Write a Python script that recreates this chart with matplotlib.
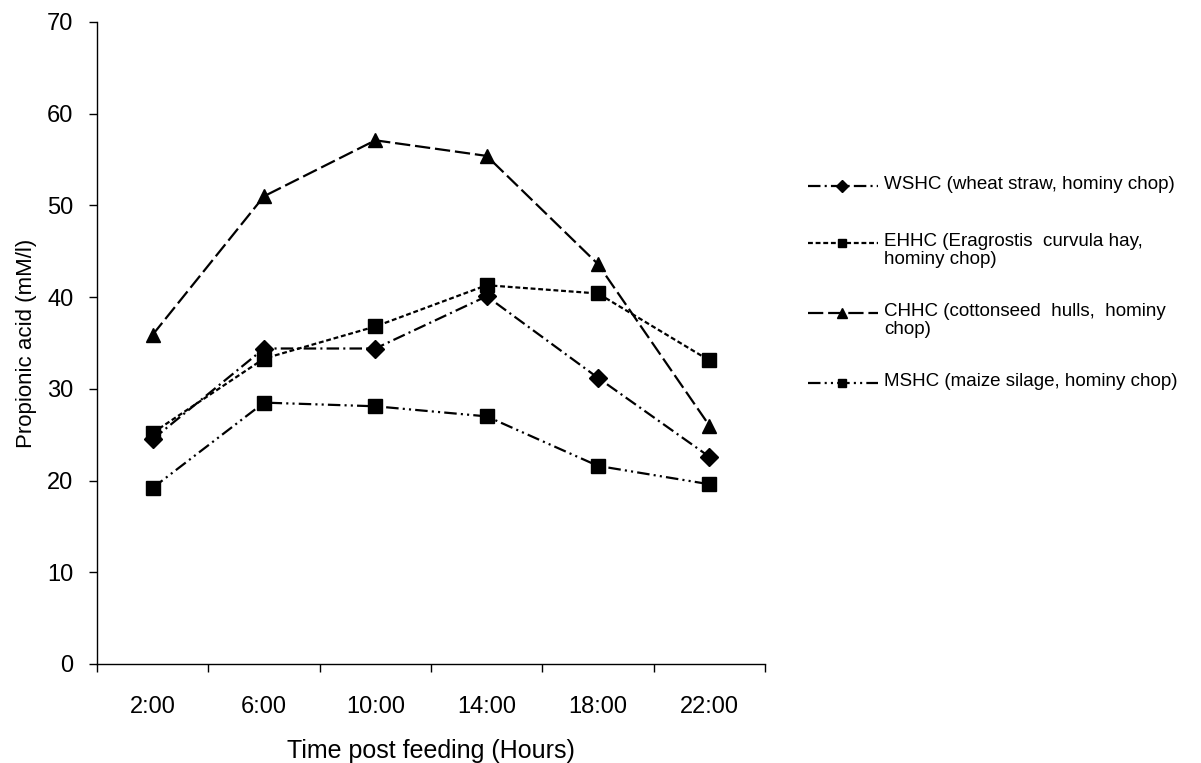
import matplotlib
matplotlib.use('Agg')
import matplotlib.pyplot as plt
from matplotlib.lines import Line2D
from matplotlib.ticker import FixedLocator, NullFormatter

plt.rcParams['font.family'] = ['Liberation Sans', 'DejaVu Sans']
plt.rcParams['lines.scale_dashes'] = False

# data
times = ['2:00', '6:00', '10:00', '14:00', '18:00', '22:00']
wshc = [24.5, 34.4, 34.4, 40.1, 31.2, 22.6]
ehhc = [25.2, 33.3, 36.8, 41.3, 40.4, 33.1]
chhc = [35.9, 51.0, 57.1, 55.4, 43.6, 26.0]
mshc = [19.2, 28.5, 28.1, 27.0, 21.6, 19.6]

labels = ['WSHC (wheat straw, hominy chop)',
          'EHHC (Eragrostis  curvula hay,\nhominy chop)',
          'CHHC (cottonseed  hulls,  hominy\nchop)',
          'MSHC (maize silage, hominy chop)']

# style per series: marker, size in plot, size in legend, dashes
styles = [('D', 9, 6.5, (9, 3, 1.5, 3)),
          ('s', 9.5, 6, (3.5, 2)),
          ('^', 10, 7, (11, 3.5)),
          ('s', 9.5, 6, (9, 3, 1.5, 3, 1.5, 3))]
series = [wshc, ehhc, chhc, mshc]

fig = plt.figure(figsize=(12.01, 7.63), dpi=100)
ax = fig.add_axes([97 / 1201, 1 - 664 / 763, 668 / 1201, 642 / 763])

x = list(range(len(times)))
for vals, (m, ms, _, dash) in zip(series, styles):
    ax.plot(x, vals, color='black', lw=1.6, dashes=dash, marker=m,
            markersize=ms, markerfacecolor='black', markeredgecolor='black')

ax.set_xlim(-0.5, len(times) - 0.5)
ax.set_ylim(0, 70)
ax.set_yticks(range(0, 71, 10))
ax.tick_params(axis='y', direction='out', length=6, width=1, labelsize=17, pad=11)

# category boundaries get tick marks, centers get labels
ax.xaxis.set_major_locator(FixedLocator([i - 0.5 for i in range(len(times) + 1)]))
ax.xaxis.set_major_formatter(NullFormatter())
ax.xaxis.set_minor_locator(FixedLocator(x))
ax.set_xticklabels(times, minor=True)
ax.tick_params(axis='x', which='major', direction='out', length=6, width=1)
ax.tick_params(axis='x', which='minor', length=0, labelsize=17, pad=23)

for s in ['top', 'right']:
    ax.spines[s].set_visible(False)
for s in ['left', 'bottom']:
    ax.spines[s].set_linewidth(1)

ax.set_xlabel('Time post feeding (Hours)', fontsize=18, labelpad=15)
ax.set_ylabel('Propionic acid (mM/l)', fontsize=16, labelpad=7)

# hand-drawn legend, handle aligned with first text line
leg_y = [186, 243, 313, 383]
for ypix, lab, (m, _, lms, dash) in zip(leg_y, labels, styles):
    yf = 1 - ypix / 763
    ln = Line2D([808 / 1201, 878 / 1201], [yf, yf], transform=fig.transFigure,
                color='black', lw=1.6, dashes=dash)
    mk = Line2D([842 / 1201], [yf], transform=fig.transFigure, marker=m,
                markersize=lms, color='black', linestyle='none')
    fig.add_artist(ln)
    fig.add_artist(mk)
    fig.text(884 / 1201, yf + 10 / 763, lab, fontsize=13.5, va='top', ha='left',
             linespacing=1.05)

fig.savefig('out.png', dpi=100)
